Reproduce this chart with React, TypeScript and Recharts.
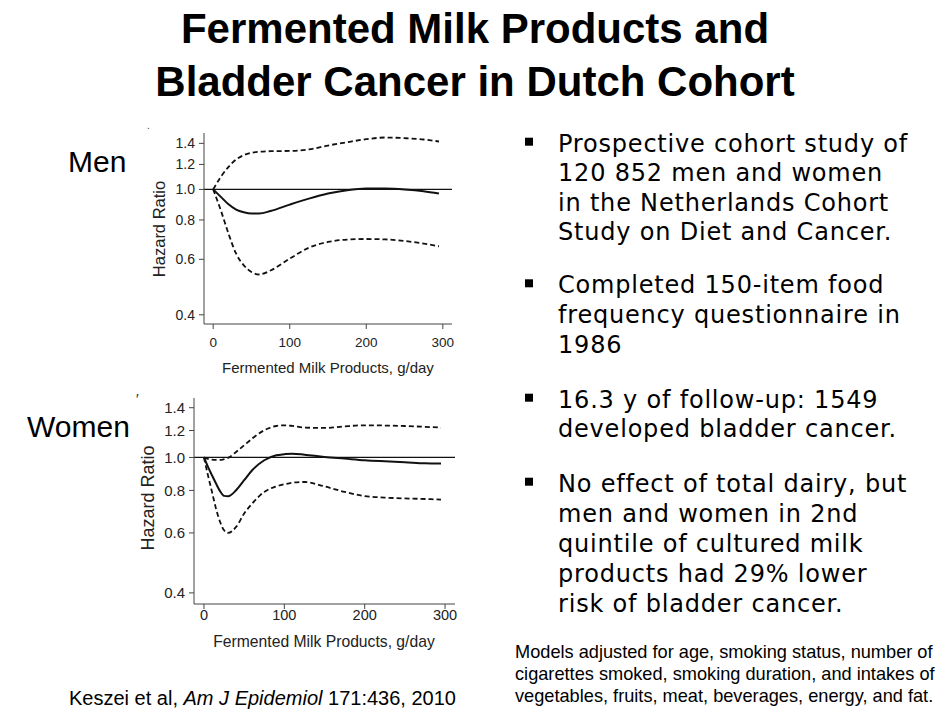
import { LineChart, Line, XAxis, YAxis, ReferenceLine } from 'recharts'

// spline estimates (hazard ratio vs g/day)
const menDose = [0, 10, 20, 30, 40, 50, 60, 75, 100, 125, 150, 175, 200, 225, 250, 275, 295]
const menHR = [1.0, 0.947, 0.897, 0.863, 0.846, 0.838, 0.838, 0.854, 0.895, 0.935, 0.97, 0.994, 1.006, 1.006, 1.0, 0.987, 0.97]
const menUpper = [1.0, 1.096, 1.179, 1.244, 1.284, 1.306, 1.316, 1.322, 1.325, 1.339, 1.378, 1.412, 1.443, 1.461, 1.454, 1.44, 1.419]
const menLower = [1.0, 0.858, 0.724, 0.625, 0.574, 0.547, 0.537, 0.553, 0.603, 0.653, 0.681, 0.693, 0.696, 0.694, 0.686, 0.673, 0.66]

const womenDose = [0, 5, 10, 15, 20, 25, 30, 40, 50, 60, 75, 90, 100, 110, 125, 150, 175, 200, 225, 250, 275, 295]
const womenHR = [1.0, 0.938, 0.886, 0.838, 0.796, 0.771, 0.769, 0.801, 0.857, 0.917, 0.981, 1.015, 1.022, 1.026, 1.019, 1.003, 0.992, 0.981, 0.974, 0.968, 0.961, 0.959]
const womenUpper = [1.0, 0.99, 0.985, 0.983, 0.983, 0.988, 0.997, 1.038, 1.086, 1.136, 1.202, 1.237, 1.243, 1.238, 1.224, 1.221, 1.234, 1.243, 1.241, 1.237, 1.23, 1.224]
const womenLower = [1.0, 0.886, 0.792, 0.707, 0.647, 0.611, 0.6, 0.625, 0.684, 0.732, 0.792, 0.822, 0.834, 0.843, 0.847, 0.822, 0.792, 0.77, 0.762, 0.758, 0.755, 0.752]

const hrTicks = [0.4, 0.6, 0.8, 1.0, 1.2, 1.4]
const doseTicks = [0, 100, 200, 300]

const titleLines = ['Fermented Milk Products and', 'Bladder Cancer in Dutch Cohort']
const bullets = [
  ['Prospective cohort study of', '120 852 men and women', 'in the Netherlands Cohort', 'Study on Diet and Cancer.'],
  ['Completed 150-item food', 'frequency questionnaire in', '1986'],
  ['16.3 y of follow-up: 1549', 'developed bladder cancer.'],
  ['No effect of total dairy, but', 'men and women in 2nd', 'quintile of cultured milk', 'products had 29% lower', 'risk of bladder cancer.'],
]
const bulletBaselines = [
  [151.7, 181, 210.5, 240],
  [293.3, 323, 352.7],
  [407.7, 437],
  [491.7, 521.7, 551.5, 581.7, 611.7],
]
const footnote = [
  'Models adjusted for age, smoking status, number of',
  'cigarettes smoked, smoking duration, and intakes of',
  'vegetables, fruits, meat, beverages, energy, and fat.',
]

const ARIAL = '"Liberation Sans", Arial, Helvetica, sans-serif'
const BODY = '"DejaVu Sans", "Open Sans", sans-serif'

function toRows(dose: number[], hr: number[], lower: number[], upper: number[]) {
  return dose.map((x, i) => ({ x, hr: hr[i], lower: lower[i], upper: upper[i] }))
}

type PanelProps = {
  rows: { x: number; hr: number; lower: number; upper: number }[]
  left: number
  top: number
  width: number
  height: number
  xDomain: [number, number]
  yDomain: [number, number]
  xTickMargin: number
  xFont: number
  yFont: number
}

function SplinePanel({ rows, left, top, width, height, xDomain, yDomain, xTickMargin, xFont, yFont }: PanelProps) {
  return (
    <div style={{ position: 'absolute', left, top }}>
      <LineChart width={width} height={height} data={rows} margin={{ top: 13, right: 8, left: 0, bottom: 0 }}>
        <XAxis
          dataKey="x"
          type="number"
          domain={xDomain}
          allowDataOverflow
          ticks={doseTicks}
          tickSize={5}
          tickMargin={xTickMargin}
          height={60}
          stroke="#444"
          tick={{ fontSize: xFont, fill: '#222', fontFamily: ARIAL }}
        />
        <YAxis
          type="number"
          scale="log"
          domain={yDomain}
          allowDataOverflow
          ticks={hrTicks}
          tickFormatter={(v) => Number(v).toFixed(1)}
          tickSize={5}
          tickMargin={4}
          width={84}
          stroke="#444"
          tick={{ fontSize: yFont, fill: '#222', fontFamily: ARIAL }}
        />
        <ReferenceLine y={1} stroke="#111" strokeWidth={1.3} />
        <Line dataKey="upper" type="monotone" stroke="#111" strokeWidth={1.8} strokeDasharray="5 3" dot={false} isAnimationActive={false} />
        <Line dataKey="lower" type="monotone" stroke="#111" strokeWidth={1.8} strokeDasharray="5 3" dot={false} isAnimationActive={false} />
        <Line dataKey="hr" type="monotone" stroke="#111" strokeWidth={2} dot={false} isAnimationActive={false} />
      </LineChart>
    </div>
  )
}

export default function App() {
  const menRows = toRows(menDose, menHR, menLower, menUpper)
  const womenRows = toRows(womenDose, womenHR, womenLower, womenUpper)

  return (
    <div style={{ position: 'absolute', left: 0, top: 0, width: 950, height: 712, background: '#fff', overflow: 'hidden' }}>
      <svg width={950} height={712} style={{ position: 'absolute', left: 0, top: 0 }}>
        {titleLines.map((t, i) => (
          <text key={t} x={475} y={43.3 + i * 52.7} textAnchor="middle" fontFamily={ARIAL} fontWeight="bold" fontSize={42} fill="#000">
            {t}
          </text>
        ))}

        <text x={68} y={171.7} fontFamily={ARIAL} fontSize={30} fill="#000">Men</text>
        <text x={27} y={437} fontFamily={ARIAL} fontSize={30} fill="#000">Women</text>
        <text x={147} y={129} fontFamily={ARIAL} fontSize={10} fill="#444">.</text>
        <text x={136} y={404} fontFamily={ARIAL} fontSize={14} fill="#222">′</text>

        <text transform="translate(165,229) rotate(-90)" textAnchor="middle" fontFamily={ARIAL} fontSize={16.5} fill="#222">Hazard Ratio</text>
        <text transform="translate(154,498) rotate(-90)" textAnchor="middle" fontFamily={ARIAL} fontSize={18} fill="#222">Hazard Ratio</text>
        <text x={328} y={373} textAnchor="middle" fontFamily={ARIAL} fontSize={15} fill="#222">Fermented Milk Products, g/day</text>
        <text x={324} y={646.5} textAnchor="middle" fontFamily={ARIAL} fontSize={15.7} fill="#222">Fermented Milk Products, g/day</text>

        {bullets.map((lines, b) => (
          <g key={b}>
            <rect x={525} y={bulletBaselines[b][0] - 14} width={8} height={8} fill="#000" />
            {lines.map((line, i) => (
              <text key={line} x={558} y={bulletBaselines[b][i]} fontFamily={BODY} fontSize={24} letterSpacing={0.8} fill="#000">
                {line}
              </text>
            ))}
          </g>
        ))}

        {footnote.map((line, i) => (
          <text key={line} x={515} y={658.3 + i * 21.7} fontFamily={ARIAL} fontSize={18.2} fill="#000">
            {line}
          </text>
        ))}

        <text x={69} y={705} fontFamily={ARIAL} fontSize={20} fill="#000">
          Keszei et al, <tspan fontStyle="italic">Am J Epidemiol</tspan> 171:436, 2010
        </text>
      </svg>

      <SplinePanel
        rows={menRows}
        left={120}
        top={120}
        width={340}
        height={264}
        xDomain={[-12, 312]}
        yDomain={[0.374, 1.51]}
        xTickMargin={8}
        xFont={13.5}
        yFont={14}
      />
      <SplinePanel
        rows={womenRows}
        left={110}
        top={385}
        width={353}
        height={279}
        xDomain={[-12.4, 312.4]}
        yDomain={[0.371, 1.495]}
        xTickMargin={1}
        xFont={14.5}
        yFont={15}
      />
    </div>
  )
}
